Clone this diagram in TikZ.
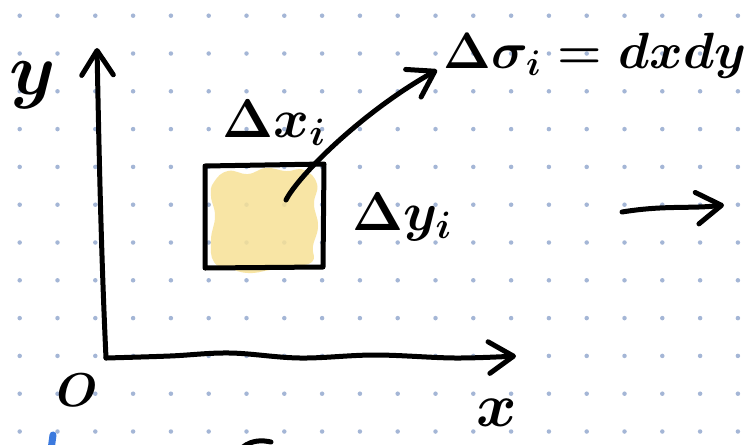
\RequirePackage{fix-cm}
\documentclass[tikz,border=0pt]{standalone}
\usepackage{amsmath,amssymb}
\usetikzlibrary{arrows.meta}

\definecolor{dotblue}{RGB}{164,182,214}
\definecolor{paleyellow}{RGB}{247,225,150}
\definecolor{penblue}{RGB}{60,122,222}

\begin{document}
\begin{tikzpicture}[x=0.02cm, y=-0.02cm, >={Straight Barb[round, length=14pt, width=18pt]},
  pen/.style={line width=0.1cm, line cap=round, line join=round},
  hand/.style={inner sep=0pt, font=\fontsize{31}{36}\selectfont\boldmath},
  axlab/.style={inner sep=0pt, font=\fontsize{42}{48}\selectfont\boldmath}]

  % ==========================================
  % PAPER : white sheet with dotted grid
  % ==========================================
  \useasboundingbox (0,0) rectangle (751,444);
  \fill[white] (0,0) rectangle (751,444);
  \foreach \i in {0,...,19}
    \foreach \j in {0,...,11}
      \fill[dotblue] (19.7+37.8*\i, 15.7+37.8*\j) circle (0.045cm);

  % ==========================================
  % AXES
  % ==========================================
  \coordinate (O) at (106,358);
  \coordinate (ytop) at (97,48);
  \coordinate (xtip) at (516,356);

  % vertical axis, slightly bent like a pen stroke
  \draw[pen, ->] (O) .. controls (101,250) and (99,150) .. (ytop);
  % horizontal axis, wavy
  \draw[pen, ->] plot[smooth, tension=0.6] coordinates {(O) (170,356) (230,353) (300,358) (375,355) (455,358) (xtip)};

  \node[axlab] (ylab) at (33,85) {$y$};
  \node[hand, font=\fontsize{27}{30}\selectfont\boldmath] (orig) at (77,390) {$O$};
  \node[axlab, font=\fontsize{35}{40}\selectfont\boldmath] (xlab) at (497,413) {$x$};

  % ==========================================
  % AREA ELEMENT
  % ==========================================
  % yellow scribble inside the cell
  \fill[paleyellow, fill opacity=0.85] plot[smooth cycle, tension=0.8] coordinates {
    (214,182) (228,171) (248,174) (266,168) (286,171) (304,170) (317,184) (314,204)
    (318,226) (313,246) (312,262) (292,266) (270,270) (248,273) (229,268) (214,262)
    (211,240) (215,216) (211,196)};

  % the cell itself
  \draw[pen] (205,166) -- (324,164) -- (323,267) -- (205,268) -- cycle;

  \node[hand, anchor=base west] (dx) at (222,137) {$\Delta x_i$};
  \node[hand, anchor=base west] (dy) at (352,230) {$\Delta y_i$};

  % label of the area and the curved pointer to it
  \node[hand, font=\fontsize{29}{34}\selectfont\boldmath, anchor=base west] (dsig) at (443,68) {$\Delta\sigma_i = dxdy$};
  \coordinate (src) at (286,200);
  \draw[pen, ->] (src) .. controls (298,176) and (362,112) .. ([shift={(-6,2)}]dsig.base west);

  % ==========================================
  % RIGHT : arrow to the next step
  % ==========================================
  \coordinate (ra) at (622,212);
  \coordinate (rb) at (724,205);
  \draw[pen, ->] (ra) .. controls (665,205) and (690,209) .. (rb);

  % strokes cut by the lower edge
  \draw[penblue, line width=0.14cm, line cap=round] (53,435) -- (51,450);
  \draw[pen] (243,447) .. controls (252,440) and (262,440) .. (271,442);

\end{tikzpicture}
\end{document}
